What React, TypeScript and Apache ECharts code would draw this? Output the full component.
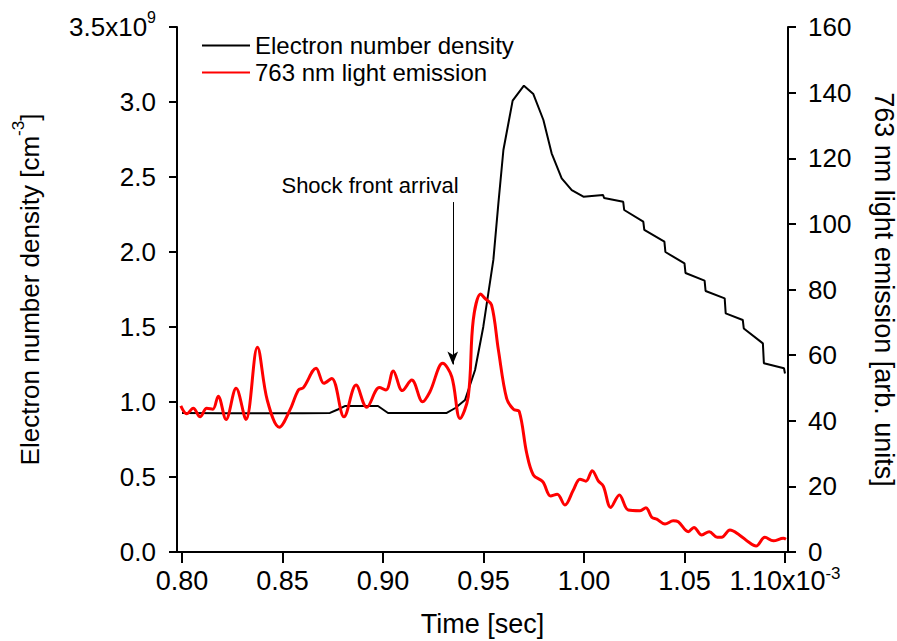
import React, { useEffect, useRef } from 'react';
import * as echarts from 'echarts';

const FONT = '"Liberation Sans", Arial, sans-serif';

// x-axis ticks (time, in units of 1e-3 s)
const timeTicks = [0.8, 0.85, 0.9, 0.95, 1.0, 1.05, 1.1];

// Electron number density (1e9 cm^-3)
const densTime = [0.800, 0.820, 0.860, 0.8736, 0.8775, 0.881, 0.8975, 0.900, 0.9025, 0.9317, 0.936, 0.9408, 0.9458, 0.9499, 0.9549, 0.9574, 0.9599, 0.9645, 0.9701, 0.9748, 0.9798, 0.9839, 0.9889, 0.9939, 0.9997, 1.0095, 1.0100, 1.0195, 1.0200, 1.0295, 1.0300, 1.0400, 1.0405, 1.0500, 1.0505, 1.0600, 1.0605, 1.0700, 1.0705, 1.0790, 1.0795, 1.0890, 1.0895, 1.0995, 1.1000];
const densValue = [0.927, 0.925, 0.925, 0.927, 0.95, 0.973, 0.973, 0.95, 0.927, 0.927, 0.96, 1.013, 1.213, 1.502, 1.947, 2.324, 2.68, 3.009, 3.109, 3.053, 2.88, 2.658, 2.491, 2.413, 2.369, 2.38, 2.36, 2.335, 2.28, 2.202, 2.147, 2.069, 2.0, 1.924, 1.86, 1.809, 1.74, 1.691, 1.591, 1.547, 1.49, 1.391, 1.258, 1.225, 1.19];

// 763 nm light emission (arb. units)
const emisTime = [0.7994, 0.8023, 0.8056, 0.8090, 0.8123, 0.8153, 0.8180, 0.8219, 0.8269, 0.8318, 0.8375, 0.8424, 0.8484, 0.8537, 0.8579, 0.8604, 0.8667, 0.8706, 0.8745, 0.8806, 0.8866, 0.8919, 0.8982, 0.9015, 0.9051, 0.9096, 0.9143, 0.9197, 0.9234, 0.9297, 0.9342, 0.9383, 0.9424, 0.9449, 0.9486, 0.9507, 0.9540, 0.9574, 0.9615, 0.9649, 0.9678, 0.9715, 0.9748, 0.9795, 0.9834, 0.9867, 0.9905, 0.9947, 0.9980, 1.0010, 1.0041, 1.0071, 1.0096, 1.0133, 1.0176, 1.0220, 1.0279, 1.0308, 1.0337, 1.0362, 1.0403, 1.0444, 1.0469, 1.0519, 1.0547, 1.0586, 1.0623, 1.0663, 1.0685, 1.0726, 1.0773, 1.0817, 1.0856, 1.0900, 1.0942, 1.0992, 1.1005];
const emisValue = [44.5, 42.1, 43.8, 41.2, 43.8, 43.5, 47.5, 40.4, 49.9, 40.4, 62.4, 46.3, 38.0, 43.3, 49.4, 50.1, 56.0, 51.4, 52.9, 41.2, 50.9, 44.1, 50.1, 49.4, 55.2, 49.2, 52.4, 45.8, 48.9, 57.5, 53.4, 40.7, 47.3, 70.7, 78.6, 77.3, 75.3, 61.6, 46.8, 43.5, 42.8, 30.1, 23.5, 21.4, 17.1, 17.6, 14.3, 18.9, 22.2, 21.6, 24.8, 21.7, 20.1, 13.6, 17.4, 12.8, 12.6, 13.5, 10.6, 10.0, 8.5, 9.5, 9.2, 6.2, 7.5, 5.2, 6.2, 4.5, 4.5, 6.7, 5.2, 3.1, 1.8, 4.5, 3.4, 4.2, 3.9];

// annotation: shock front arrival arrow (time, density)
const shockTime = 0.9347;
const shockFrom = 2.333;
const shockTo = 1.25;

const richY = {
  n: { fontSize: 26, lineHeight: 36, fontFamily: FONT, color: '#000' },
  s: { fontSize: 16, lineHeight: 16, fontFamily: FONT, color: '#000', verticalAlign: 'top' as const },
};
const richX = {
  n: { fontSize: 27, lineHeight: 32, fontFamily: FONT, color: '#000' },
  s: { fontSize: 17, lineHeight: 16, fontFamily: FONT, color: '#000', verticalAlign: 'top' as const },
};

export default function App() {
  const ref = useRef<HTMLDivElement>(null);
  useEffect(() => {
    const chart = echarts.init(ref.current!, null, { renderer: 'svg' });
    const axisLine = { show: true, onZero: false, lineStyle: { color: '#000', width: 2 } };
    chart.setOption({
      animation: false,
      backgroundColor: '#fff',
      grid: { left: 177, top: 27, width: 611, height: 525, containLabel: false, outerBoundsMode: 'none' },
      legend: {
        orient: 'vertical',
        left: 197,
        top: 27,
        itemWidth: 48,
        itemHeight: 2,
        itemGap: 0,
        icon: 'rect',
        data: ['Electron number density', '763 nm light emission'],
        textStyle: { fontSize: 24, lineHeight: 27, fontFamily: FONT, color: '#000' },
      },
      xAxis: {
        type: 'value',
        min: 0.7975,
        max: 1.1015,
        axisLine,
        axisTick: { show: true, inside: false, length: 11, lineStyle: { color: '#000', width: 2 }, customValues: timeTicks },
        axisLabel: {
          customValues: timeTicks,
          margin: 13,
          formatter: (v: number) => (Math.abs(v - 1.1) < 1e-9 ? '{n|1.10x10}{s|-3}' : '{n|' + v.toFixed(2) + '}'),
          rich: richX,
        },
        splitLine: { show: false },
        name: 'Time [sec]',
        nameLocation: 'middle',
        nameGap: 58,
        nameTextStyle: { fontSize: 27, fontFamily: FONT, color: '#000' },
      },
      yAxis: [
        {
          type: 'value',
          position: 'left',
          min: 0,
          max: 3.5,
          interval: 0.5,
          axisLine,
          axisTick: { show: true, inside: false, length: 8, lineStyle: { color: '#000', width: 2 } },
          axisLabel: {
            margin: 21,
            formatter: (v: number) => (Math.abs(v - 3.5) < 1e-9 ? '{n|3.5x10}{s|9}' : '{n|' + v.toFixed(1) + '}'),
            rich: richY,
          },
          splitLine: { show: false },
          name: '{a|Electron number density [cm}{s|-3}{a|]}',
          nameLocation: 'middle',
          nameRotate: 90,
          nameGap: 127,
          nameTextStyle: {
            rich: {
              a: { fontSize: 26, lineHeight: 40, fontFamily: FONT, color: '#000' },
              s: { fontSize: 17, lineHeight: 17, fontFamily: FONT, color: '#000', verticalAlign: 'top' },
            },
          },
        },
        {
          type: 'value',
          position: 'right',
          min: 0,
          max: 160,
          interval: 20,
          axisLine,
          axisTick: { show: true, inside: false, length: 8, lineStyle: { color: '#000', width: 2 } },
          axisLabel: { margin: 20, fontSize: 26, lineHeight: 18, fontFamily: FONT, color: '#000' },
          splitLine: { show: false },
          name: '763 nm light emission [arb. units]',
          nameLocation: 'middle',
          nameRotate: -90,
          nameGap: 82,
          nameTextStyle: { fontSize: 27, fontFamily: FONT, color: '#000' },
        },
      ],
      series: [
        {
          name: 'Electron number density',
          type: 'line',
          yAxisIndex: 0,
          data: densTime.map((t, i) => [t, densValue[i]]),
          symbol: 'none',
          lineStyle: { color: '#000', width: 2 },
          itemStyle: { color: '#000' },
          z: 2,
          markLine: {
            silent: true,
            symbol: ['none', 'arrow'],
            symbolSize: [8, 13],
            lineStyle: { color: '#000', width: 1, type: 'solid' },
            label: { show: false },
            emphasis: { disabled: true },
            data: [[{ coord: [shockTime, shockFrom] }, { coord: [shockTime, shockTo] }]],
          },
        },
        {
          name: '763 nm light emission',
          type: 'line',
          yAxisIndex: 1,
          data: emisTime.map((t, i) => [t, emisValue[i]]),
          symbol: 'none',
          smooth: 0.35,
          lineStyle: { color: '#ff0000', width: 3 },
          itemStyle: { color: '#ff0000' },
          z: 3,
        },
      ],
    });
    const p = chart.convertToPixel({ xAxisIndex: 0, yAxisIndex: 0 }, [shockTime, shockFrom]) as number[];
    chart.setOption({
      graphic: [
        {
          type: 'text',
          x: p[0] + 6,
          y: p[1] - 17,
          style: {
            text: 'Shock front arrival',
            font: '22px ' + FONT,
            fill: '#000',
            align: 'right',
            verticalAlign: 'middle',
          },
        },
      ],
    });
    return () => chart.dispose();
  }, []);
  return <div ref={ref} style={{ position: 'fixed', left: 0, top: 0, width: 897, height: 641 }} />;
}
